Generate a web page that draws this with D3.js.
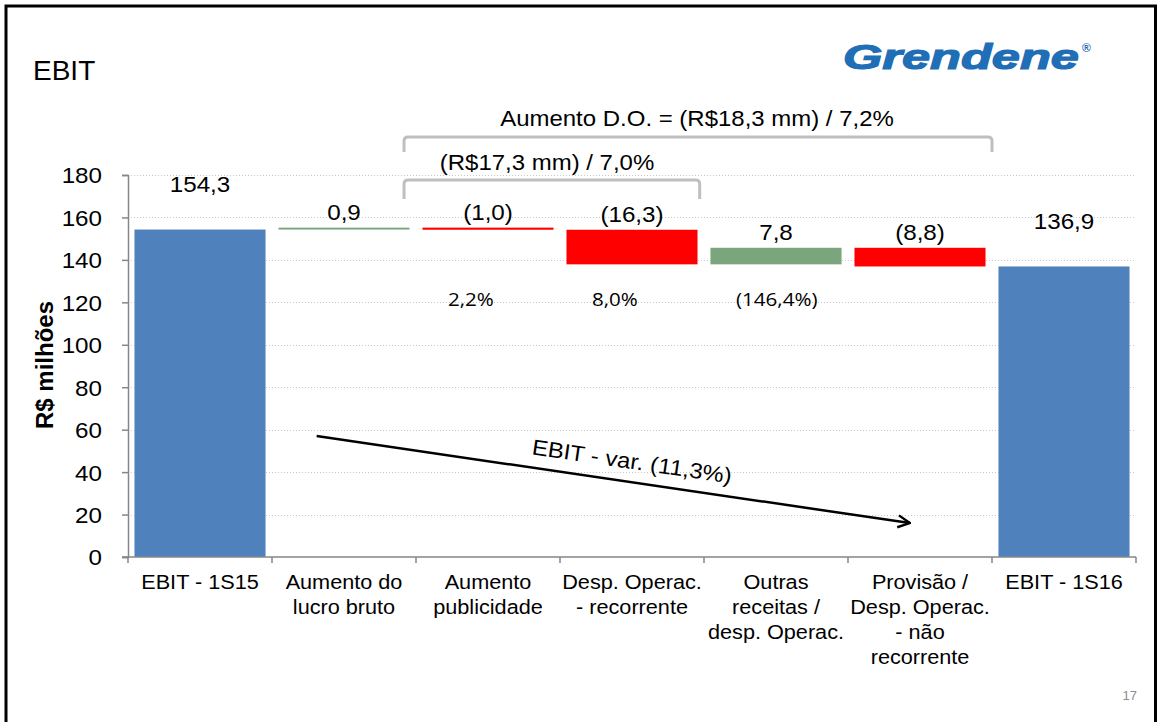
<!DOCTYPE html>
<html>
<head>
<meta charset="utf-8">
<script src="https://cdn.jsdelivr.net/npm/d3@7"></script>
<style>
  html, body { margin: 0; padding: 0; background: #fff; }
  svg { display: block; font-family: Arial, "Liberation Sans", sans-serif; }
</style>
</head>
<body>
<svg id="chart" width="1157" height="722"></svg>
<script>
// ---- data ----
const categories = [
  ["EBIT - 1S15"],
  ["Aumento do", "lucro bruto"],
  ["Aumento", "publicidade"],
  ["Desp. Operac.", "- recorrente"],
  ["Outras", "receitas /", "desp. Operac."],
  ["Provisão /", "Desp. Operac.", "- não", "recorrente"],
  ["EBIT - 1S16"]
];
const values = [154.3, 0.9, -1.0, -16.3, 7.8, -8.8, 136.9];
const barTypes = ["total", "delta", "delta", "delta", "delta", "delta", "total"];
const valueLabels = ["154,3", "0,9", "(1,0)", "(16,3)", "7,8", "(8,8)", "136,9"];
const percentLabels = [null, null, "2,2%", "8,0%", "(146,4%)", null, null];
const yTicks = [0, 20, 40, 60, 80, 100, 120, 140, 160, 180];
const bracketBig = { from: 1.917, to: 6.0, top: 197.9, bottom: 190.8, label: "Aumento D.O. = (R$18,3 mm) / 7,2%" };
const bracketSmall = { from: 1.917, to: 3.97, top: 177.7, bottom: 168.7, label: "(R$17,3 mm) / 7,0%" };
const arrowPts = [{ pos: 1.31, value: 57 }, { pos: 5.43, value: 16 }];
const arrowLabel = "EBIT - var. (11,3%)";
const title = "EBIT";
const yTitle = "R$ milhões";
const pageNumber = "17";

// ---- build waterfall ----
const keys = categories.map(c => c.join(" "));
let running = 0;
const bars = values.map((v, i) => {
  let lo, hi;
  if (barTypes[i] === "total") { lo = 0; hi = v; running = v; }
  else { const start = running; running = +(running + v).toFixed(4); lo = Math.min(start, running); hi = Math.max(start, running); }
  return { key: keys[i], lines: categories[i], value: v, type: barTypes[i], lo, hi, label: valueLabels[i], pct: percentLabels[i] };
});

const SX = 1.1; // horizontal text stretch of the original slide
const svg = d3.select("#chart");
const colors = { total: "#4F81BD", pos: "#7AA57D", neg: "#FF0000" };

const x = d3.scaleBand().domain(keys).range([128, 1136]).paddingInner(0.09).paddingOuter(0.045);
const y = d3.scaleLinear().domain([0, 180]).range([557, 175]);
const xPos = p => x.range()[0] + p * x.step();

function sText(parent, tx, ty, str, size, anchor) {
  return parent.append("text")
    .attr("transform", `translate(${tx},${ty}) scale(${SX},1)`)
    .attr("text-anchor", anchor || "middle").attr("dy", "0.36em")
    .attr("font-size", size).attr("fill", "#000").text(str);
}

// slide border
svg.append("path")
  .attr("d", "M6,724 L6,6 L1155.5,6 L1155.5,724")
  .attr("fill", "none").attr("stroke", "#000").attr("stroke-width", 3);

// title
svg.append("text").attr("x", 33).attr("y", 80).attr("font-size", 28).attr("fill", "#000").text(title);

// logo
svg.append("text").attr("x", 843).attr("y", 69)
  .attr("font-size", 35).attr("font-weight", "bold").attr("font-style", "italic")
  .attr("fill", "#1F6EB6").attr("stroke", "#1F6EB6").attr("stroke-width", 1.2)
  .attr("textLength", 236).attr("lengthAdjust", "spacingAndGlyphs").text("Grendene");
svg.append("text").attr("x", 1082).attr("y", 52).attr("font-size", 12).attr("font-weight", "bold")
  .attr("fill", "#1F6EB6").text("®");

// gridlines
svg.append("g").selectAll("line").data(yTicks.filter(t => t > 0)).join("line")
  .attr("x1", x.range()[0]).attr("x2", x.range()[1])
  .attr("y1", d => Math.round(y(d)) + 0.5).attr("y2", d => Math.round(y(d)) + 0.5)
  .attr("stroke", "#C8C8C8").attr("stroke-width", 1).attr("stroke-dasharray", "1,2");

// y axis
const yAxis = svg.append("g").attr("transform", `translate(${x.range()[0]},0)`)
  .call(d3.axisLeft(y).tickValues(yTicks).tickSize(6).tickPadding(26).tickFormat(d3.format("d")));
yAxis.select(".domain").attr("stroke", "#868686").attr("stroke-width", 1.5);
yAxis.selectAll(".tick line").attr("stroke", "#868686").attr("stroke-width", 1.5);
yAxis.selectAll(".tick text").attr("x", null).attr("dy", "0.36em")
  .attr("transform", `translate(-26,0) scale(${SX},1)`)
  .attr("font-size", 22).attr("fill", "#000").attr("font-family", "Arial, 'Liberation Sans', sans-serif");

// axis title
svg.append("text").attr("transform", "translate(53,365) rotate(-90)")
  .attr("text-anchor", "middle").attr("font-size", 24).attr("font-weight", "bold").text(yTitle);

// bars
svg.append("g").selectAll("rect").data(bars).join("rect")
  .attr("x", d => x(d.key)).attr("width", x.bandwidth())
  .attr("y", d => y(d.hi)).attr("height", d => Math.max(1.5, y(d.lo) - y(d.hi)))
  .attr("fill", d => d.type === "total" ? colors.total : (d.value >= 0 ? colors.pos : colors.neg));

// x axis
const xAxisG = svg.append("g");
xAxisG.append("line").attr("x1", x.range()[0] - 6).attr("x2", x.range()[1])
  .attr("y1", y(0)).attr("y2", y(0)).attr("stroke", "#868686").attr("stroke-width", 1.5);
xAxisG.selectAll("line.tk").data(d3.range(keys.length + 1)).join("line").attr("class", "tk")
  .attr("x1", d => xPos(d)).attr("x2", d => xPos(d))
  .attr("y1", y(0)).attr("y2", y(0) + 6).attr("stroke", "#868686").attr("stroke-width", 1.5);
const catText = xAxisG.selectAll("text.cat").data(bars).join("text").attr("class", "cat")
  .attr("text-anchor", "middle").attr("font-size", 19.7).attr("fill", "#000")
  .attr("transform", d => `translate(${x(d.key) + x.bandwidth() / 2},589) scale(${SX},1)`);
catText.selectAll("tspan").data(d => d.lines).join("tspan")
  .attr("x", 0).attr("y", (d, i) => i * 25).text(d => d);

// value labels
const vl = svg.append("g");
bars.forEach(d => {
  sText(vl, x(d.key) + x.bandwidth() / 2, y(d.hi) - (d.type === "total" ? 45 : 16), d.label, 22);
});

// percent labels
const pl = svg.append("g");
bars.filter(d => d.pct).forEach(d => {
  sText(pl, x(d.key) - x.step() * x.paddingInner() / 2 + 32, 299, d.pct, 18.7, "start")
    .attr("font-family", "'Open Sans', 'Noto Sans', sans-serif");
});

// brackets
function bracket(b) {
  const x0 = xPos(b.from), x1 = xPos(b.to), yt = y(b.top), yb = y(b.bottom), r = 4;
  svg.append("path")
    .attr("d", `M${x0},${yb} L${x0},${yt + r} Q${x0},${yt} ${x0 + r},${yt} L${x1 - r},${yt} Q${x1},${yt} ${x1},${yt + r} L${x1},${yb}`)
    .attr("fill", "none").attr("stroke", "#BFBFBF").attr("stroke-width", 3);
}
bracket(bracketBig);
bracket(bracketSmall);
sText(svg, 697, 118, bracketBig.label, 21.8);
sText(svg, 547, 162, bracketSmall.label, 21.8);

// arrow
const defs = svg.append("defs");
defs.append("marker").attr("id", "ah").attr("viewBox", "0 0 10 10").attr("refX", 9).attr("refY", 5)
  .attr("markerWidth", 6).attr("markerHeight", 6).attr("orient", "auto")
  .append("path").attr("d", "M1,1 L9,5 L1,9").attr("fill", "none").attr("stroke", "#000").attr("stroke-width", 1.6);
const ax0 = xPos(arrowPts[0].pos), ay0 = y(arrowPts[0].value), ax1 = xPos(arrowPts[1].pos), ay1 = y(arrowPts[1].value);
svg.append("line").attr("x1", ax0).attr("y1", ay0).attr("x2", ax1).attr("y2", ay1)
  .attr("stroke", "#000").attr("stroke-width", 2.5).attr("marker-end", "url(#ah)");
const ang = Math.atan2(ay1 - ay0, ax1 - ax0) * 180 / Math.PI;
svg.append("text").attr("transform", `translate(632,461) rotate(${ang}) scale(${SX},1)`)
  .attr("text-anchor", "middle").attr("dy", "0.36em").attr("font-size", 21.8).text(arrowLabel);

// page number
svg.append("text").attr("x", 1137).attr("y", 700).attr("text-anchor", "end")
  .attr("font-size", 13).attr("fill", "#8C8C8C").text(pageNumber);
</script>
</body>
</html>
